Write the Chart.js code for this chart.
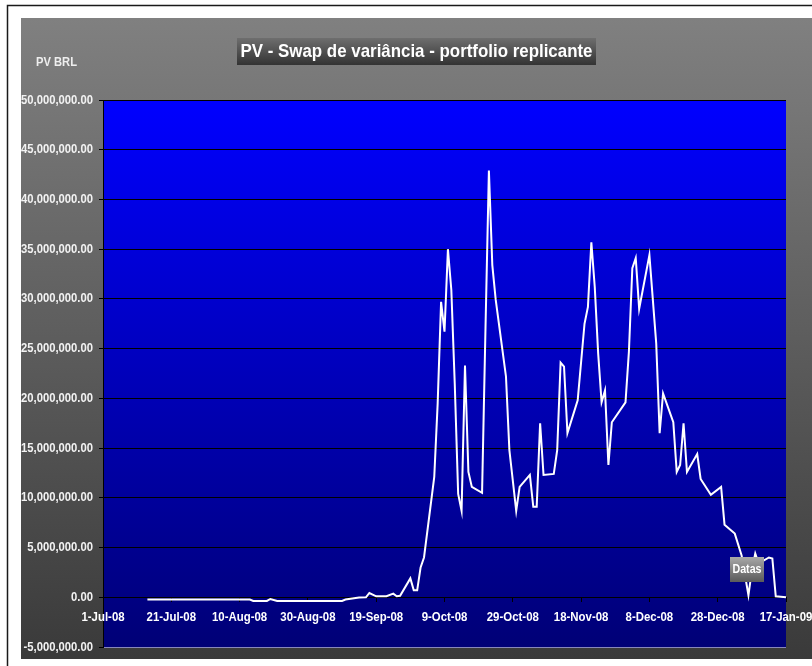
<!DOCTYPE html>
<html><head><meta charset="utf-8">
<script src="https://cdn.jsdelivr.net/npm/chart.js@4/dist/chart.umd.min.js"></script>
<style>html,body{margin:0;padding:0;background:#fff}canvas{display:block}</style>
</head><body>
<canvas id="c" width="812" height="666"></canvas>
<script>
// ---- data ----
const chartTitle = 'PV - Swap de variância - portfolio replicante';
const yAxisTitle = 'PV BRL';
const xAxisTitle = 'Datas';
const axisStart = '2008-07-01';
const axisEnd = '2009-01-17';
const xTickLabels = ['1-Jul-08','21-Jul-08','10-Aug-08','30-Aug-08','19-Sep-08','9-Oct-08','29-Oct-08','18-Nov-08','8-Dec-08','28-Dec-08','17-Jan-09'];
const dates = [
 '2008-07-14','2008-08-13','2008-08-14','2008-08-18','2008-08-19','2008-08-21','2008-09-09','2008-09-10',
 '2008-09-14','2008-09-16','2008-09-17','2008-09-19','2008-09-22','2008-09-24','2008-09-25','2008-09-26',
 '2008-09-29','2008-09-30','2008-10-01','2008-10-02','2008-10-03','2008-10-06','2008-10-07','2008-10-08',
 '2008-10-09','2008-10-10','2008-10-11','2008-10-12','2008-10-13','2008-10-14','2008-10-15','2008-10-16',
 '2008-10-17','2008-10-20','2008-10-21','2008-10-22','2008-10-23','2008-10-24','2008-10-27','2008-10-28',
 '2008-10-30','2008-10-31','2008-11-03','2008-11-04','2008-11-05','2008-11-06','2008-11-07','2008-11-10',
 '2008-11-11','2008-11-12','2008-11-13','2008-11-14','2008-11-17','2008-11-19','2008-11-20','2008-11-21',
 '2008-11-22','2008-11-23','2008-11-24','2008-11-25','2008-11-26','2008-11-27','2008-12-01','2008-12-02',
 '2008-12-03','2008-12-04','2008-12-05','2008-12-08','2008-12-10','2008-12-11','2008-12-12','2008-12-15',
 '2008-12-16','2008-12-17','2008-12-18','2008-12-19','2008-12-22','2008-12-23','2008-12-26','2008-12-29',
 '2008-12-30','2009-01-02','2009-01-04','2009-01-06','2009-01-07','2009-01-08','2009-01-09','2009-01-12',
 '2009-01-13','2009-01-14','2009-01-17'
];
const pvValues = [
 -230000,-230000,-370000,-370000,-170000,-370000,-370000,-230000,
 -30000,0,430000,100000,100000,370000,100000,150000,
 1900000,700000,700000,3000000,4000000,12100000,19500000,29700000,
 26700000,35000000,30900000,21500000,10400000,8700000,23300000,12600000,
 11100000,10500000,27000000,42900000,33400000,29900000,22200000,14800000,
 8700000,11100000,12300000,9100000,9100000,17500000,12300000,12400000,
 14800000,23600000,23200000,16500000,19800000,27500000,29200000,35700000,
 31200000,24500000,19600000,20800000,13300000,17600000,19600000,24700000,
 33100000,34100000,29000000,34400000,25500000,16500000,20500000,17600000,
 12600000,13300000,17500000,12600000,14400000,11900000,10300000,11100000,
 7300000,6400000,4200000,200000,2700000,4400000,3400000,4000000,
 3900000,100000,0
];
const yMin = -5000000, yMax = 50000000, yStep = 5000000;

// ---- helpers ----
const DAY = 86400000;
function dayIndex(s){ const [y,m,d]=s.split('-').map(Number); const [y0,m0,d0]=axisStart.split('-').map(Number); return Math.round((Date.UTC(y,m-1,d)-Date.UTC(y0,m0-1,d0))/DAY); }
function fmt(v){ const neg=v<0; let s=Math.abs(Math.round(v)).toString(); s=s.replace(/\B(?=(\d{3})+(?!\d))/g, ','); return (neg?'-':'')+s+'.00'; }
const FAM = "'Liberation Sans',Arial,sans-serif";
const Y_FONT = 'bold 13px ' + FAM, X_FONT = 'bold 13px ' + FAM;
const points = dates.map((d,i)=>({x: dayIndex(d), y: pvValues[i]}));
const xMax = dayIndex(axisEnd);
const xStep = xMax / (xTickLabels.length - 1);

function measure(ctx, text, font){ ctx.save(); ctx.font = font; const w = ctx.measureText(text).width; ctx.restore(); return w; }
function narrowText(ctx, text, x, y, align, font, sx, color){
  ctx.save();
  ctx.font = font; ctx.fillStyle = color;
  ctx.textAlign = align; ctx.textBaseline = 'middle';
  ctx.translate(x, y); ctx.scale(sx, 1);
  ctx.fillText(text, 0, 0);
  ctx.restore();
}
function fitText(ctx, text, x, y, width, font, color){
  narrowText(ctx, text, x, y, 'center', font, width / measure(ctx, text, font), color);
}

const bgPlugin = {
  id: 'bg',
  beforeDraw(chart){
    const ctx = chart.ctx, W = chart.width, H = chart.height, a = chart.chartArea;
    ctx.save();
    ctx.fillStyle = '#fff'; ctx.fillRect(0,0,W,H);
    ctx.strokeStyle = '#1a1a1a'; ctx.lineWidth = 1.5;
    ctx.beginPath(); ctx.moveTo(7.5, H+2); ctx.lineTo(7.5,5.5); ctx.lineTo(W+2,5.5); ctx.stroke();
    let g = ctx.createLinearGradient(0,18,0,659);
    g.addColorStop(0,'#808080'); g.addColorStop(1,'#3a3a3a');
    ctx.fillStyle = g; ctx.fillRect(21,18,W-21,659-18);
    g = ctx.createLinearGradient(0,a.top,0,a.bottom);
    g.addColorStop(0,'#0000ff'); g.addColorStop(1,'#000076');
    ctx.fillStyle = g; ctx.fillRect(a.left,a.top,a.right-a.left,a.bottom-a.top);
    ctx.restore();
  },
  afterDraw(chart){
    const ctx = chart.ctx;
    const ys = chart.scales.y, xs = chart.scales.x;
    const ySx = 72 / measure(ctx, fmt(yMax), Y_FONT);
    ys.ticks.forEach(t => {
      narrowText(ctx, fmt(t.value), ys.right - 10, ys.getPixelForValue(t.value), 'right', Y_FONT, ySx, '#f2f2f2');
    });
    const xSx = 54 / measure(ctx, '28-Dec-08', X_FONT);
    const zeroY = ys.getPixelForValue(0);
    xs.ticks.forEach(t => {
      narrowText(ctx, xTickLabels[Math.round(t.value / xStep)], xs.getPixelForValue(t.value), zeroY + 20, 'center', X_FONT, xSx, '#ffffff');
    });
    ctx.save();
    let g = ctx.createLinearGradient(0,38,0,65);
    g.addColorStop(0,'#6e6e6e'); g.addColorStop(1,'#333');
    ctx.fillStyle = g; ctx.fillRect(237,38,359,27);
    ctx.restore();
    fitText(ctx, chartTitle, 416.5, 51.5, 352, 'bold 19px ' + FAM, '#ffffff');
    fitText(ctx, yAxisTitle, 56.5, 63, 41, 'bold 12px ' + FAM, '#eeeeee');
    ctx.save();
    g = ctx.createLinearGradient(0,557,0,582);
    g.addColorStop(0,'#a8a8a8'); g.addColorStop(1,'#5a5a5a');
    ctx.fillStyle = g; ctx.fillRect(730,557,34,25);
    ctx.restore();
    fitText(ctx, xAxisTitle, 747, 569.5, 29, 'bold 12px ' + FAM, '#ffffff');
  }
};

new Chart(document.getElementById('c'), {
  type: 'line',
  data: { datasets: [{ data: points, borderColor: '#ffffff', borderWidth: 2, pointRadius: 0, tension: 0, fill: false }] },
  options: {
    responsive: false, animation: false, devicePixelRatio: 1,
    layout: { padding: { left: 0, top: 100, right: 26, bottom: 19 } },
    plugins: { legend: { display: false }, tooltip: { enabled: false }, title: { display: false } },
    scales: {
      x: {
        type: 'linear', position: { y: 0 }, min: 0, max: xMax,
        grid: { drawOnChartArea: false, drawTicks: true, tickLength: 4, tickColor: '#000' },
        border: { color: '#000', width: 1 },
        ticks: { display: false, stepSize: xStep, autoSkip: false, maxRotation: 0 }
      },
      y: {
        min: yMin, max: yMax,
        afterFit: (s) => { s.width = 103; },
        grid: { color: (c) => c.index === 0 ? '#8888bb' : '#000', lineWidth: 1, tickLength: 4, tickColor: '#000' },
        border: { color: '#000', width: 1 },
        ticks: { display: false, stepSize: yStep }
      }
    }
  },
  plugins: [bgPlugin]
});
</script>
</body></html>
